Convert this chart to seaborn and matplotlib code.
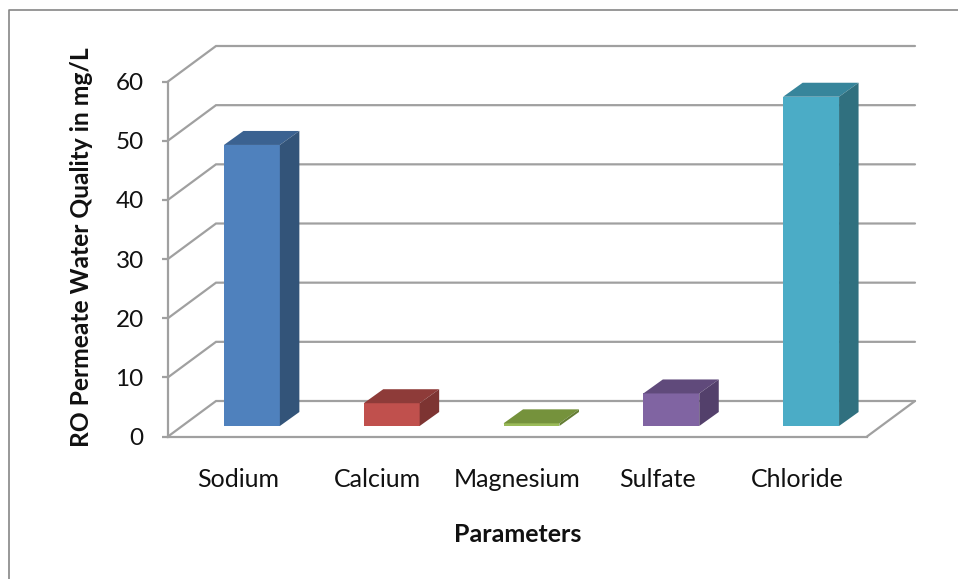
import matplotlib
matplotlib.use('Agg')
import matplotlib.pyplot as plt
from matplotlib.lines import Line2D
from matplotlib.patches import Polygon
import pandas as pd
import seaborn as sns

# values
parameters = ['Sodium', 'Calcium', 'Magnesium', 'Sulfate', 'Chloride']
quality = [47.5, 3.85, 0.45, 5.5, 55.65]
y_ticks = [0, 10, 20, 30, 40, 50, 60]

front_colors = ['#4F81BD', '#C0504D', '#9BBB59', '#8064A2', '#4BACC6']
top_colors = ['#3B6291', '#8E3B39', '#75923C', '#604A7B', '#37859B']
side_colors = ['#335479', '#7D3432', '#647D34', '#53406B', '#30707F']

W, H = 958, 579
grid_color = '#A0A0A0'
text_color = '#111111'

sns.set_theme(style='white')
plt.rcParams['font.family'] = ['Lato', 'DejaVu Sans']


def px_rect(left, right, bottom, top):
    return [left / W, 1 - bottom / H, (right - left) / W, (bottom - top) / H]


fig = plt.figure(figsize=(W / 100, H / 100), dpi=100)
ax = fig.add_axes(px_rect(168, 867, 436.5, 81.5))
ax.set_xlim(-0.5, 4.5)
ax.set_ylim(0, 60)

# pixels per data unit, to turn the oblique offsets into data units
ux = 699 / 5
uy = 355 / 60

# wall and floor lines
wall_dx = 48 / ux
wall_dy = 35.5 / uy
for v in y_ticks:
    ax.plot([-0.5, -0.5 + wall_dx, 4.5 + wall_dx], [v, v + wall_dy, v + wall_dy],
            color=grid_color, lw=1.6, clip_on=False, zorder=1, solid_joinstyle='miter')
ax.plot([4.5, 4.5 + wall_dx], [0, wall_dy], color=grid_color, lw=1.6, clip_on=False, zorder=1)

sns.despine(ax=ax, top=True, right=True)
for side in ['left', 'bottom']:
    ax.spines[side].set_color(grid_color)
    ax.spines[side].set_linewidth(1.6)
ax.set_yticks(y_ticks)
ax.set_xticks(range(len(parameters)))
ax.set_xticklabels(parameters)
ax.tick_params(axis='y', length=4.5, width=1.6, color=grid_color, pad=13,
               labelsize=17.5, labelcolor=text_color, left=True)
ax.tick_params(axis='x', length=0, pad=22.5, labelsize=18, labelcolor=text_color)
ax.set_xlabel('Parameters', fontsize=18, fontweight='bold', color=text_color)
ax.xaxis.set_label_coords(0.5, -0.244)
ax.set_ylabel('RO Permeate Water Quality in mg/L', fontsize=17.7, fontweight='bold', color=text_color)
ax.yaxis.set_label_coords(-0.107, 0.534)

# bars stand a little behind the front edge of the floor
bar_ax = fig.add_axes(px_rect(168 + 14, 867 + 14, 426, 71))
df = pd.DataFrame({'parameter': parameters, 'quality': quality})
sns.barplot(data=df, x='parameter', y='quality', hue='parameter', palette=front_colors,
            order=parameters, hue_order=parameters, width=0.4, legend=False, saturation=1,
            ax=bar_ax)
bar_ax.set_xlim(-0.5, 4.5)
bar_ax.set_ylim(0, 60)
bar_ax.axis('off')
bar_ax.patch.set_alpha(0)

dx = 19.5 / ux
dy = 14 / uy
for i, cont in enumerate(bar_ax.containers):
    for bar in cont:
        x0 = bar.get_x()
        x1 = x0 + bar.get_width()
        h = bar.get_height()
        bar.set_edgecolor('none')
        bar.set_zorder(3)
        bar_ax.add_patch(Polygon([(x0, h), (x1, h), (x1 + dx, h + dy), (x0 + dx, h + dy)],
                                 closed=True, facecolor=top_colors[i], edgecolor='none',
                                 zorder=3, clip_on=False))
        bar_ax.add_patch(Polygon([(x1, 0), (x1 + dx, dy), (x1 + dx, h + dy), (x1, h)],
                                 closed=True, facecolor=side_colors[i], edgecolor='none',
                                 zorder=3, clip_on=False))

# chart area border, only left and top are inside the picture
fig.add_artist(Line2D([8.5 / W, 8.5 / W, 1], [0, 1 - 9.5 / H, 1 - 9.5 / H], color='#868686', lw=1.2))

fig.savefig('out.png', dpi=100)
